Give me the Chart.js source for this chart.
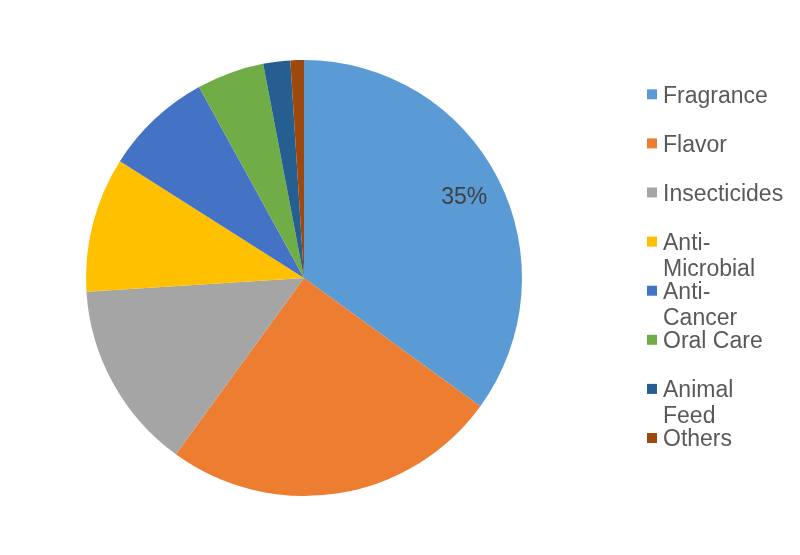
<!DOCTYPE html>
<html>
<head>
<meta charset="utf-8">
<script src="https://cdn.jsdelivr.net/npm/chart.js@4.4.1/dist/chart.umd.min.js"></script>
<style>
html,body{margin:0;padding:0;background:#fff;}
#wrap{position:relative;width:800px;height:555px;}
</style>
</head>
<body>
<div id="wrap"><canvas id="c" width="800" height="555"></canvas></div>
<script>
const categories = ["Fragrance", "Flavor", "Insecticides", "Anti-Microbial", "Anti-Cancer", "Oral Care", "Animal Feed", "Others"];
const legendLines = [["Fragrance"], ["Flavor"], ["Insecticides"], ["Anti-", "Microbial"], ["Anti-", "Cancer"], ["Oral Care"], ["Animal", "Feed"], ["Others"]];
const shares = [35, 25, 14, 10, 8, 5, 2, 1];
const colors = ["#5B9BD5", "#ED7D31", "#A5A5A5", "#FFC000", "#4472C4", "#70AD47", "#255E91", "#9E480E"];
const labelledSlices = [0];

const FONT = '23px "Liberation Sans", Arial, sans-serif';

const sliceLabels = {
  id: 'sliceLabels',
  afterDatasetsDraw(chart) {
    const ctx = chart.ctx;
    const meta = chart.getDatasetMeta(0);
    ctx.save();
    ctx.font = FONT;
    ctx.fillStyle = '#404040';
    ctx.textAlign = 'center';
    ctx.textBaseline = 'middle';
    labelledSlices.forEach(i => {
      const arc = meta.data[i];
      const p = arc.getProps(['x', 'y', 'startAngle', 'endAngle', 'outerRadius'], true);
      const mid = (p.startAngle + p.endAngle) / 2;
      const r = p.outerRadius * 0.825;
      ctx.fillText(shares[i] + '%', p.x + Math.cos(mid) * r, p.y + Math.sin(mid) * r + 1);
    });
    ctx.restore();
  }
};

const sideLegend = {
  id: 'sideLegend',
  afterDraw(chart) {
    const ctx = chart.ctx;
    ctx.save();
    ctx.font = FONT;
    ctx.textAlign = 'left';
    ctx.textBaseline = 'alphabetic';
    const sx = 647, tx = 663, y0 = 94.3, step = 49.1, lh = 26;
    legendLines.forEach((lines, i) => {
      const cy = y0 + step * i;
      ctx.fillStyle = colors[i];
      ctx.fillRect(sx, cy - 5, 10, 10);
      ctx.fillStyle = '#595959';
      lines.forEach((t, k) => {
        ctx.fillText(t, tx, cy + 8.2 + k * lh);
      });
    });
    ctx.restore();
  }
};

new Chart(document.getElementById('c'), {
  type: 'pie',
  data: {
    labels: categories,
    datasets: [{
      data: shares,
      backgroundColor: colors,
      borderWidth: 0
    }]
  },
  options: {
    responsive: false,
    animation: false,
    layout: { padding: { left: 86, right: 278, top: 60, bottom: 59 } },
    plugins: {
      legend: { display: false },
      tooltip: { enabled: false }
    }
  },
  plugins: [sliceLabels, sideLegend]
});
</script>
</body>
</html>
